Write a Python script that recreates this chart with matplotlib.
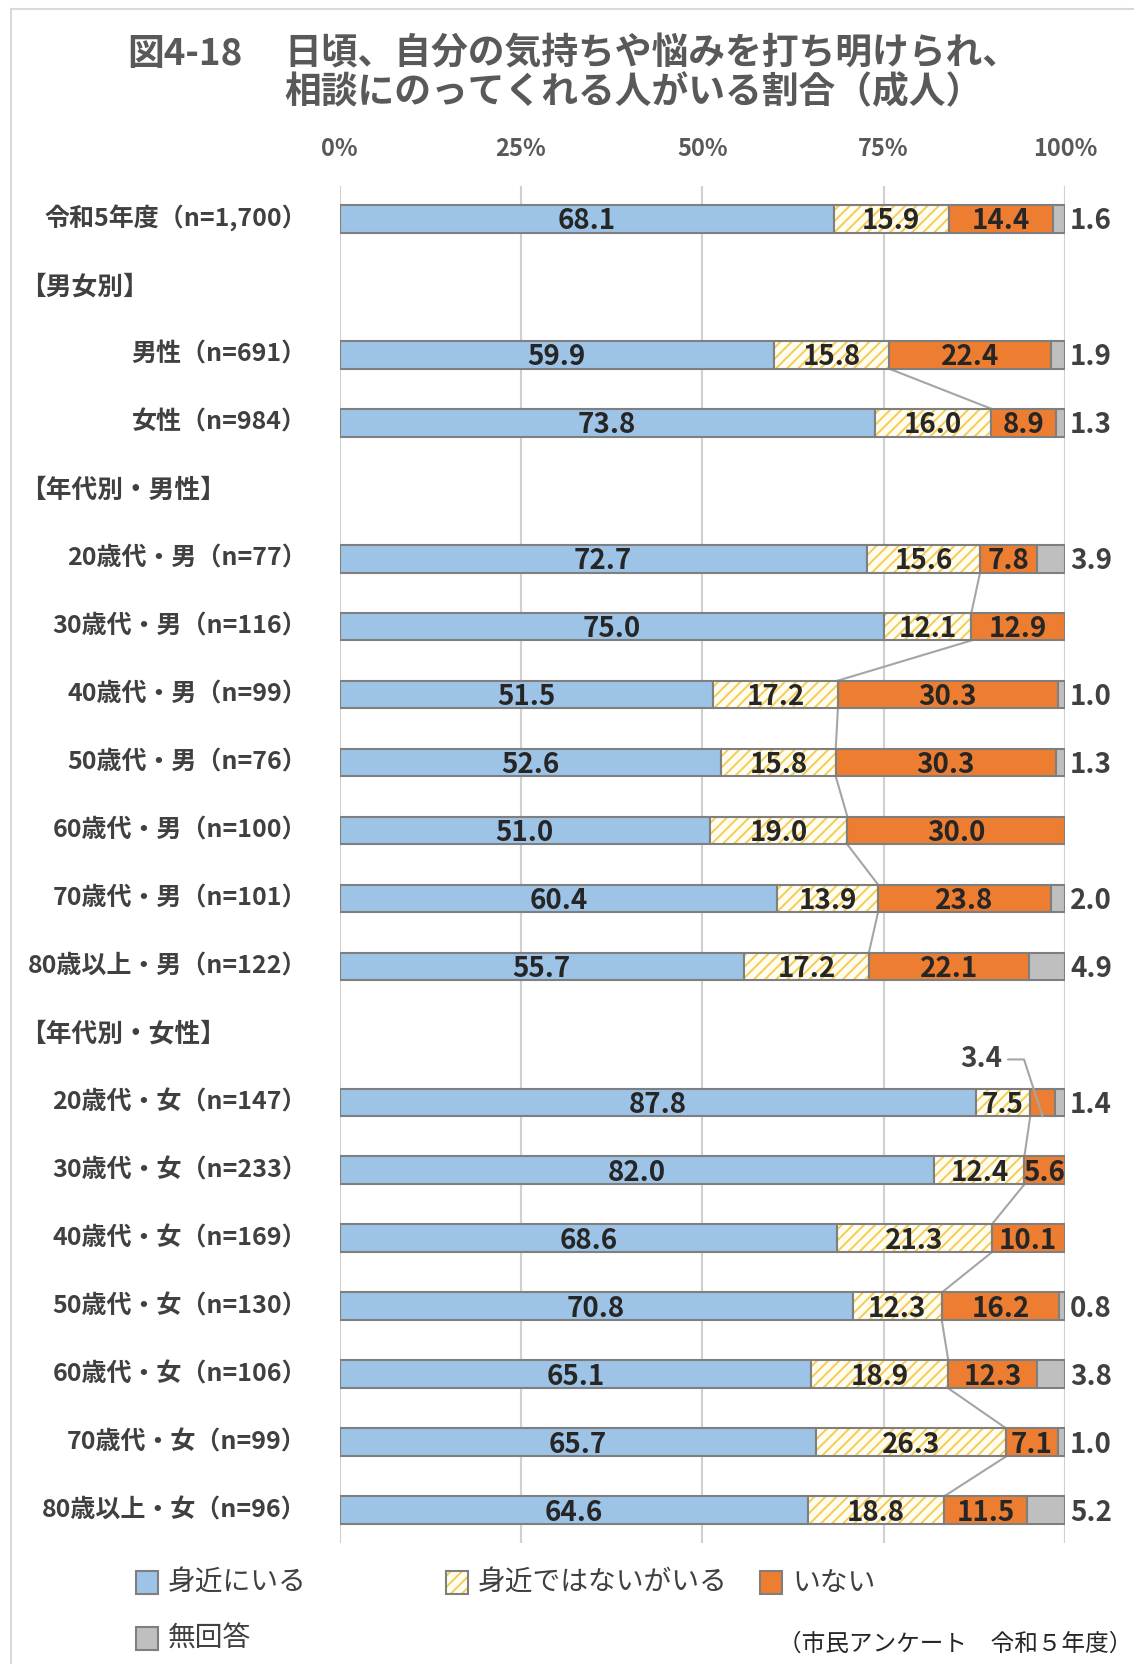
import matplotlib
matplotlib.use('Agg')
import matplotlib.pyplot as plt
from matplotlib.patches import Rectangle
from matplotlib.lines import Line2D
import numpy as np

plt.rcParams['font.family'] = ['Noto Sans CJK JP', 'DejaVu Sans']
plt.rcParams['hatch.linewidth'] = 1.4

# --- data (percent). header rows carry nan ---
categories = ['令和5年度（n=1,700）', '【男女別】', '男性（n=691）', '女性（n=984）',
              '【年代別・男性】',
              '20歳代・男（n=77）', '30歳代・男（n=116）', '40歳代・男（n=99）',
              '50歳代・男（n=76）', '60歳代・男（n=100）', '70歳代・男（n=101）',
              '80歳以上・男（n=122）',
              '【年代別・女性】',
              '20歳代・女（n=147）', '30歳代・女（n=233）', '40歳代・女（n=169）',
              '50歳代・女（n=130）', '60歳代・女（n=106）', '70歳代・女（n=99）',
              '80歳以上・女（n=96）']
nan = np.nan
near = [68.1, nan, 59.9, 73.8, nan, 72.7, 75.0, 51.5, 52.6, 51.0, 60.4, 55.7,
        nan, 87.8, 82.0, 68.6, 70.8, 65.1, 65.7, 64.6]
far = [15.9, nan, 15.8, 16.0, nan, 15.6, 12.1, 17.2, 15.8, 19.0, 13.9, 17.2,
       nan, 7.5, 12.4, 21.3, 12.3, 18.9, 26.3, 18.8]
nobody = [14.4, nan, 22.4, 8.9, nan, 7.8, 12.9, 30.3, 30.3, 30.0, 23.8, 22.1,
          nan, 3.4, 5.6, 10.1, 16.2, 12.3, 7.1, 11.5]
noans = [1.6, nan, 1.9, 1.3, nan, 3.9, 0.0, 1.0, 1.3, 0.0, 2.0, 4.9,
         nan, 1.4, 0.0, 0.0, 0.8, 3.8, 1.0, 5.2]
series_names = ['身近にいる', '身近ではないがいる', 'いない', '無回答']
ticks = [0, 25, 50, 75, 100]

W, H = 1134, 1664
fig = plt.figure(figsize=(W / 100, H / 100), dpi=100)


def fx(px):
    return px / W


def fy(py):
    return 1 - py / H


BLUE = '#9DC3E6'
YEL_BG = '#FFFCF0'
YEL_HATCH = '#F5CC55'
ORANGE = '#ED7D31'
GRAY = '#BFBFBF'
EDGE = '#7F7F7F'
TXT = '#404040'
LINE = '#A5A5A5'

# light frame round the picture
fig.add_artist(Line2D([fx(11), fx(11)], [fy(9), 0], color='#D9D9D9', lw=1.5))
fig.add_artist(Line2D([fx(11), 1], [fy(9), fy(9)], color='#D9D9D9', lw=1.5))

# title
tkw = dict(fontsize=26.5, fontweight='bold', color='#595959', ha='left', va='center')
fig.text(fx(127), fy(54), '図4-18', **tkw)
fig.text(fx(284), fy(54), '日頃、自分の気持ちや悩みを打ち明けられ、', **tkw)
fig.text(fx(284), fy(93), '相談にのってくれる人がいる割合（成人）', **tkw)

ax = fig.add_axes([fx(339.5), fy(1543), fx(1065) - fx(339.5), fy(186) - fy(1543)])

vals = np.array([near, far, nobody, noans], dtype=float)
rows = np.arange(len(categories))
is_data = ~np.isnan(vals[0])
tot = np.nansum(vals, axis=0)
tot[~is_data] = 1
pct = vals / tot * 100
bh = 0.41

y = rows[is_data]
p = pct[:, is_data]
left = np.zeros(len(y))
# blue
ax.barh(y, p[0], left=left, height=bh, color=BLUE, edgecolor=EDGE, lw=1.5, zorder=3)
left = left + p[0]
# hatched yellow
ax.barh(y, p[1], left=left, height=bh, color=YEL_BG, edgecolor=YEL_HATCH, hatch='///',
        lw=0, zorder=3)
ax.barh(y, p[1], left=left, height=bh, fill=False, edgecolor=EDGE, lw=1.5, zorder=4)
left = left + p[1]
ax.barh(y, p[2], left=left, height=bh, color=ORANGE, edgecolor=EDGE, lw=1.5, zorder=3)
left = left + p[2]
ax.barh(y, p[3], left=left, height=bh, color=GRAY, edgecolor=EDGE, lw=1.5, zorder=3)

# series lines between the yellow / orange boundary of neighbouring bars
cum2 = pct[0] + pct[1]
for i in range(len(rows) - 1):
    if is_data[i] and is_data[i + 1]:
        ax.plot([cum2[i], cum2[i + 1]], [rows[i] + bh / 2, rows[i + 1] - bh / 2],
                color=LINE, lw=1.5, zorder=2)

# value labels
for i in rows[is_data]:
    start = 0.0
    for k in range(3):
        v = vals[k, i]
        w = pct[k, i]
        if w >= 4:
            ax.text(start + w / 2, i + 0.04, f'{v:.1f}', ha='center', va='center',
                    fontsize=20, fontweight='bold', color='#262626', zorder=5)
        elif w > 0:
            ax.annotate(f'{v:.1f}', xy=(start + w / 2, i + bh / 2),
                        xytext=(-44, 41), textcoords='offset points',
                        ha='center', va='center', fontsize=20, fontweight='bold',
                        color=TXT, zorder=5,
                        arrowprops=dict(arrowstyle='-', color=LINE, lw=1.5,
                                        shrinkA=2, shrinkB=0,
                                        connectionstyle='angle,angleA=0,angleB=108,rad=0'))
        start += w
    if vals[3, i] > 0:
        ax.text(100.7, i + 0.04, f'{vals[3, i]:.1f}', ha='left', va='center',
                fontsize=20, fontweight='bold', color=TXT)

# category labels
ytr = ax.get_yaxis_transform()
for i, lab in enumerate(categories):
    if is_data[i]:
        ax.text(-0.045, i, lab, transform=ytr, ha='right', va='center', fontsize=18,
                fontweight='bold', color=TXT)
    else:
        ax.text(-0.44, i, lab, transform=ytr, ha='left', va='center', fontsize=18.5,
                fontweight='bold', color=TXT)

ax.set_xlim(0, 100)
ax.set_ylim(len(categories) - 0.52, -0.48)
ax.set_yticks([])
ax.xaxis.tick_top()
ax.set_xticks(ticks)
ax.set_xticklabels([f'{t}%' for t in ticks], fontsize=17, fontweight='bold', color='#595959')
ax.tick_params(axis='x', length=0, pad=18)
for t in ticks:
    ax.axvline(t, color='#D0D0D0', lw=1.5, zorder=1)
for s in ax.spines.values():
    s.set_visible(False)

# legend (drawn by hand to keep the reference's spacing)
leg_items = [(136, 1583, BLUE, None), (446, 1583, YEL_BG, '///'),
             (760, 1583, ORANGE, None), (136, 1639, GRAY, None)]
for (lx, ly, col, hat), name in zip(leg_items, series_names):
    if hat:
        fig.add_artist(Rectangle((fx(lx), fy(ly + 11)), fx(22), 23 / H, facecolor=col,
                                 edgecolor=YEL_HATCH, hatch=hat, lw=0,
                                 transform=fig.transFigure))
        fig.add_artist(Rectangle((fx(lx), fy(ly + 11)), fx(22), 23 / H, fill=False,
                                 edgecolor=EDGE, lw=1.5, transform=fig.transFigure))
    else:
        fig.add_artist(Rectangle((fx(lx), fy(ly + 11)), fx(22), 23 / H, facecolor=col,
                                 edgecolor=EDGE, lw=1.5, transform=fig.transFigure))
    fig.text(fx(lx + 32), fy(ly), name, fontsize=20, color=TXT, ha='left', va='center')

fig.text(fx(1132), fy(1644), '（市民アンケート　令和５年度）', fontsize=17, color='#262626',
         ha='right', va='center')

fig.savefig('out.png', dpi=100)
